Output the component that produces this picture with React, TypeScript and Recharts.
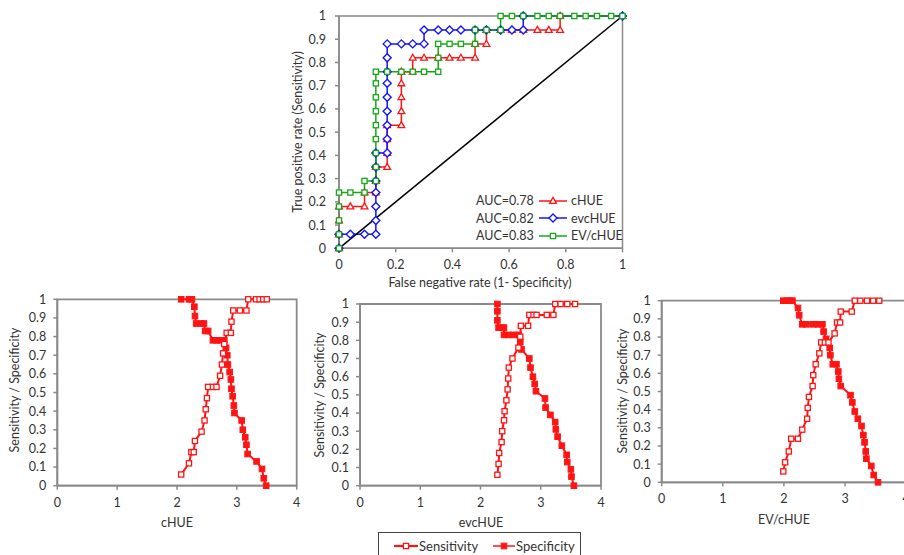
import { Line, LineChart, ReferenceArea, XAxis, YAxis } from 'recharts';

type Pt = [number, number];

// ROC curves: [1 - specificity, sensitivity]
const rocCHue: Pt[] = [
  [0, 0], [0, 0.06], [0, 0.12], [0, 0.18], [0.04, 0.18], [0.09, 0.18], [0.09, 0.24], [0.13, 0.24],
  [0.13, 0.29], [0.13, 0.35], [0.17, 0.35], [0.17, 0.41], [0.17, 0.47], [0.17, 0.53], [0.22, 0.53],
  [0.22, 0.59], [0.22, 0.65], [0.22, 0.71], [0.22, 0.76], [0.26, 0.76], [0.26, 0.82], [0.3, 0.82],
  [0.35, 0.82], [0.39, 0.82], [0.43, 0.82], [0.48, 0.82], [0.48, 0.88], [0.52, 0.88], [0.52, 0.94],
  [0.57, 0.94], [0.61, 0.94], [0.65, 0.94], [0.7, 0.94], [0.74, 0.94], [0.78, 0.94], [0.78, 1], [1, 1],
];
const rocEvcHue: Pt[] = [
  [0, 0], [0, 0.06], [0.04, 0.06], [0.09, 0.06], [0.13, 0.06], [0.13, 0.12], [0.13, 0.18], [0.13, 0.24],
  [0.13, 0.29], [0.13, 0.35], [0.13, 0.41], [0.17, 0.41], [0.17, 0.47], [0.17, 0.53], [0.17, 0.59],
  [0.17, 0.65], [0.17, 0.71], [0.17, 0.76], [0.17, 0.82], [0.17, 0.88], [0.22, 0.88], [0.26, 0.88],
  [0.3, 0.88], [0.3, 0.94], [0.35, 0.94], [0.39, 0.94], [0.43, 0.94], [0.48, 0.94], [0.52, 0.94],
  [0.57, 0.94], [0.61, 0.94], [0.65, 0.94], [0.65, 1], [1, 1],
];
const rocEvCHue: Pt[] = [
  [0, 0], [0, 0.06], [0, 0.12], [0, 0.18], [0, 0.24], [0.04, 0.24], [0.09, 0.24], [0.09, 0.29],
  [0.13, 0.29], [0.13, 0.35], [0.13, 0.41], [0.13, 0.47], [0.13, 0.53], [0.13, 0.59], [0.13, 0.65],
  [0.13, 0.71], [0.13, 0.76], [0.17, 0.76], [0.22, 0.76], [0.26, 0.76], [0.3, 0.76], [0.35, 0.76],
  [0.35, 0.82], [0.35, 0.88], [0.39, 0.88], [0.43, 0.88], [0.48, 0.88], [0.48, 0.94], [0.52, 0.94],
  [0.57, 0.94], [0.57, 1], [0.61, 1], [0.65, 1], [0.7, 1], [0.74, 1], [0.78, 1], [0.83, 1], [0.87, 1],
  [0.91, 1], [0.96, 1], [1, 1],
];
const diagonal: Pt[] = [[0, 0], [1, 1]];
const aucLabels = ['AUC=0.78', 'AUC=0.82', 'AUC=0.83'];
const seriesNames = ['cHUE', 'evcHUE', 'EV/cHUE'];

// threshold plots: [cut-off value, sensitivity or specificity]
const sensCHue: Pt[] = [
  [2.07, 0.06], [2.2, 0.12], [2.24, 0.18], [2.28, 0.18], [2.3, 0.24], [2.41, 0.29], [2.46, 0.35],
  [2.48, 0.41], [2.5, 0.47], [2.52, 0.53], [2.6, 0.53], [2.66, 0.53], [2.72, 0.59], [2.75, 0.65],
  [2.77, 0.71], [2.79, 0.76], [2.83, 0.82], [2.9, 0.82], [2.91, 0.88], [2.94, 0.94], [3.05, 0.94],
  [3.16, 0.94], [3.19, 1], [3.32, 1], [3.38, 1], [3.44, 1], [3.5, 1],
];
const specCHue: Pt[] = [
  [2.07, 1], [2.2, 1], [2.25, 1], [2.29, 0.96], [2.3, 0.91], [2.32, 0.87], [2.4, 0.87], [2.45, 0.87],
  [2.47, 0.83], [2.52, 0.83], [2.6, 0.78], [2.66, 0.78], [2.72, 0.78], [2.79, 0.78], [2.82, 0.74],
  [2.84, 0.7], [2.85, 0.65], [2.88, 0.61], [2.9, 0.57], [2.91, 0.52], [2.93, 0.48], [2.95, 0.43],
  [2.96, 0.39], [3.08, 0.35], [3.1, 0.3], [3.14, 0.26], [3.16, 0.22], [3.18, 0.17], [3.33, 0.13],
  [3.42, 0.09], [3.45, 0.04], [3.49, 0],
];
const sensEvcHue: Pt[] = [
  [2.28, 0.06], [2.3, 0.12], [2.31, 0.18], [2.35, 0.24], [2.36, 0.3], [2.39, 0.36], [2.4, 0.41],
  [2.43, 0.47], [2.45, 0.53], [2.46, 0.59], [2.47, 0.65], [2.53, 0.7], [2.63, 0.76], [2.66, 0.82],
  [2.67, 0.88], [2.79, 0.88], [2.81, 0.94], [2.88, 0.94], [2.93, 0.94], [3.1, 0.94], [3.21, 0.94],
  [3.24, 1], [3.33, 1], [3.44, 1], [3.57, 1],
];
const specEvcHue: Pt[] = [
  [2.28, 1], [2.28, 0.96], [2.28, 0.91], [2.3, 0.87], [2.35, 0.87], [2.39, 0.87], [2.39, 0.83],
  [2.46, 0.83], [2.55, 0.83], [2.63, 0.83], [2.66, 0.79], [2.68, 0.75], [2.81, 0.7], [2.83, 0.65],
  [2.87, 0.6], [2.9, 0.56], [2.92, 0.52], [3.07, 0.48], [3.08, 0.43], [3.16, 0.39], [3.24, 0.35],
  [3.25, 0.31], [3.28, 0.27], [3.35, 0.22], [3.43, 0.17], [3.44, 0.13], [3.5, 0.09], [3.51, 0.05],
  [3.55, 0],
];
const sensEvCHue: Pt[] = [
  [1.99, 0.06], [2.02, 0.11], [2.08, 0.17], [2.12, 0.24], [2.23, 0.24], [2.3, 0.29], [2.38, 0.35],
  [2.39, 0.41], [2.41, 0.47], [2.47, 0.53], [2.48, 0.59], [2.52, 0.65], [2.58, 0.71], [2.61, 0.77],
  [2.67, 0.77], [2.73, 0.77], [2.83, 0.82], [2.87, 0.88], [2.92, 0.88], [2.93, 0.94], [3.11, 0.94],
  [3.16, 1], [3.25, 1], [3.36, 1], [3.46, 1], [3.56, 1],
];
const specEvCHue: Pt[] = [
  [1.99, 1], [2.05, 1], [2.1, 1], [2.14, 1], [2.23, 0.96], [2.25, 0.92], [2.3, 0.87], [2.37, 0.87],
  [2.48, 0.87], [2.56, 0.87], [2.63, 0.87], [2.65, 0.83], [2.69, 0.79], [2.75, 0.74], [2.76, 0.7],
  [2.8, 0.65], [2.86, 0.65], [2.89, 0.61], [2.9, 0.57], [2.93, 0.53], [3.09, 0.48], [3.12, 0.44],
  [3.16, 0.39], [3.21, 0.35], [3.27, 0.31], [3.3, 0.26], [3.32, 0.22], [3.34, 0.17], [3.35, 0.13],
  [3.43, 0.09], [3.47, 0.04], [3.54, 0],
];

const rocTicks = [0, 0.2, 0.4, 0.6, 0.8, 1];
const rateTicks = [0, 0.1, 0.2, 0.3, 0.4, 0.5, 0.6, 0.7, 0.8, 0.9, 1];
const cutTicks = [0, 1, 2, 3, 4];

const RED = '#ff1414';
const BLUE = '#1414ff';
const GREEN = '#17a817';
const AXIS = '#8a8a8a';
const TEXT = '#333';
const FONT = 'Lato, "Open Sans", sans-serif';

const xy = (pts: Pt[]) => pts.map(([x, y]) => ({ x, y }));

type Shape = 'tri' | 'dia' | 'sq' | 'sqFill';

function shapeEl(shape: Shape, cx: number, cy: number, color: string, key?: string) {
  if (shape === 'tri')
    return <path key={key} d={`M${cx},${cy - 3.6}L${cx + 3.4},${cy + 2.4}L${cx - 3.4},${cy + 2.4}Z`} fill="#fff" stroke={color} strokeWidth={1.3} />;
  if (shape === 'dia')
    return <path key={key} d={`M${cx},${cy - 4}L${cx + 4},${cy}L${cx},${cy + 4}L${cx - 4},${cy}Z`} fill="#fff" stroke={color} strokeWidth={1.4} />;
  if (shape === 'sq')
    return <rect key={key} x={cx - 2.6} y={cy - 2.6} width={5.2} height={5.2} fill="#fff" stroke={color} strokeWidth={1.3} />;
  return <rect key={key} x={cx - 2.8} y={cy - 2.8} width={5.6} height={5.6} fill={color} stroke={color} strokeWidth={1} />;
}

const dotOf = (shape: Shape, color: string) => (p: any) => {
  const key = `${shape}-${p.index}`;
  if (p.cx == null || p.cy == null) return <g key={key} />;
  return shapeEl(shape, p.cx, p.cy, color, key);
};

const tickStyle = { fill: TEXT, fontSize: 12.5, fontFamily: FONT };

function RocChart() {
  return (
    <div style={{ position: 'absolute', left: 270, top: 0 }}>
      <LineChart width={380} height={300} margin={{ top: 16, right: 27.5, left: 29, bottom: 21.7 }}>
        <XAxis type="number" dataKey="x" domain={[0, 1]} ticks={rocTicks} interval={0} height={30} tickSize={4} tickMargin={8}
          axisLine={{ stroke: AXIS, strokeWidth: 1.5 }} tickLine={{ stroke: AXIS, strokeWidth: 1.5 }} tick={tickStyle} />
        <YAxis type="number" domain={[0, 1]} ticks={rateTicks} interval={0} width={40} tickSize={4} tickMargin={9}
          axisLine={{ stroke: AXIS, strokeWidth: 1.5 }} tickLine={{ stroke: AXIS, strokeWidth: 1.5 }} tick={tickStyle} />
        <XAxis xAxisId="in" type="number" domain={[0, 1]} ticks={rocTicks} interval={0} mirror axisLine={false} tickSize={4}
          tickLine={{ stroke: AXIS, strokeWidth: 1.5 }} tickFormatter={() => ''} />
        <YAxis yAxisId="in" type="number" domain={[0, 1]} ticks={rateTicks} interval={0} mirror axisLine={false} tickSize={4}
          tickLine={{ stroke: AXIS, strokeWidth: 1.5 }} tickFormatter={() => ''} />
        <ReferenceArea x1={0} x2={1} y1={0} y2={1} fill="none" stroke={AXIS} strokeWidth={1.5} />
        <Line data={xy(rocCHue)} dataKey="y" stroke={RED} strokeWidth={1.5} dot={dotOf('tri', RED)} isAnimationActive={false} />
        <Line data={xy(rocEvcHue)} dataKey="y" stroke={BLUE} strokeWidth={1.5} dot={dotOf('dia', BLUE)} isAnimationActive={false} />
        <Line data={xy(rocEvCHue)} dataKey="y" stroke={GREEN} strokeWidth={1.5} dot={dotOf('sq', GREEN)} isAnimationActive={false} />
        <Line data={xy(diagonal)} dataKey="y" stroke="#000" strokeWidth={1.5} dot={false} isAnimationActive={false} />
      </LineChart>
    </div>
  );
}

function CutChart({ left, top, width, margin, sens, spec }: {
  left: number; top: number; width: number;
  margin: { top: number; right: number; left: number; bottom: number };
  sens: Pt[]; spec: Pt[];
}) {
  return (
    <div style={{ position: 'absolute', left, top }}>
      <LineChart width={width} height={230} margin={margin}>
        <XAxis type="number" dataKey="x" domain={[0, 4]} ticks={cutTicks} interval={0} height={25} tickSize={4} tickMargin={8}
          axisLine={{ stroke: AXIS, strokeWidth: 1.8 }} tickLine={{ stroke: AXIS, strokeWidth: 1.5 }} tick={tickStyle} />
        <YAxis type="number" domain={[0, 1]} ticks={rateTicks} interval={0} width={40} tickSize={4} tickMargin={7}
          axisLine={{ stroke: AXIS, strokeWidth: 1.8 }} tickLine={{ stroke: AXIS, strokeWidth: 1.5 }} tick={tickStyle} />
        <XAxis xAxisId="in" type="number" domain={[0, 4]} ticks={cutTicks} interval={0} mirror axisLine={false} tickSize={4}
          tickLine={{ stroke: AXIS, strokeWidth: 1.5 }} tickFormatter={() => ''} />
        <YAxis yAxisId="in" type="number" domain={[0, 1]} ticks={rateTicks} interval={0} mirror axisLine={false} tickSize={4}
          tickLine={{ stroke: AXIS, strokeWidth: 1.5 }} tickFormatter={() => ''} />
        <ReferenceArea x1={0} x2={4} y1={0} y2={1} fill="none" stroke={AXIS} strokeWidth={1.8} />
        <Line data={xy(spec)} dataKey="y" stroke={RED} strokeWidth={2} dot={dotOf('sqFill', RED)} isAnimationActive={false} />
        <Line data={xy(sens)} dataKey="y" stroke={RED} strokeWidth={2} dot={dotOf('sq', RED)} isAnimationActive={false} />
      </LineChart>
    </div>
  );
}

const labelStyle = { position: 'absolute' as const, fontSize: 12.5, color: TEXT, fontFamily: FONT, whiteSpace: 'nowrap' as const, lineHeight: '16px', textAlign: 'center' as const };

function XTitle({ cx, cy, text }: { cx: number; cy: number; text: string }) {
  return <div style={{ ...labelStyle, left: cx - 150, top: cy - 8, width: 300 }}>{text}</div>;
}

function YTitle({ cx, cy, text }: { cx: number; cy: number; text: string }) {
  return <div style={{ ...labelStyle, left: cx - 120, top: cy - 8, width: 240, transform: 'rotate(-90deg)' }}>{text}</div>;
}

function LegendSample({ shape, color, w = 30, sw = 1.5 }: { shape: Shape; color: string; w?: number; sw?: number }) {
  return (
    <svg width={w} height={10} style={{ display: 'block' }}>
      <line x1={1} y1={5} x2={w - 1} y2={5} stroke={color} strokeWidth={sw} />
      {shapeEl(shape, w / 2, 5, color)}
    </svg>
  );
}

export default function App() {
  const rocColors = [RED, BLUE, GREEN];
  const rocShapes: Shape[] = ['tri', 'dia', 'sq'];
  return (
    <div style={{ position: 'fixed', left: 0, top: 0, width: 904, height: 555, overflow: 'hidden', background: '#fff', fontFamily: FONT }}>
      <RocChart />
      <XTitle cx={480} cy={283} text="False negative rate (1- Specificity)" />
      <YTitle cx={298} cy={132} text="True positive rate (Sensitivity)" />
      <div style={{ position: 'absolute', left: 476, top: 192 }}>
        {aucLabels.map((a, i) => (
          <div key={a} style={{ display: 'flex', alignItems: 'center', height: 17.5, fontSize: 12.5, color: TEXT }}>
            <span style={{ width: 62 }}>{a}</span>
            <LegendSample shape={rocShapes[i]} color={rocColors[i]} w={30} />
            <span style={{ marginLeft: 3 }}>{seriesNames[i]}</span>
          </div>
        ))}
      </div>

      <CutChart left={0} top={290} width={310} margin={{ top: 9.3, right: 13.3, left: 17.3, bottom: 9.3 }} sens={sensCHue} spec={specCHue} />
      <CutChart left={300} top={290} width={320} margin={{ top: 14, right: 19, left: 20, bottom: 9.3 }} sens={sensEvcHue} spec={specEvcHue} />
      <CutChart left={600} top={290} width={320} margin={{ top: 10.7, right: 13.9, left: 21.7, bottom: 12.7 }} sens={sensEvCHue} spec={specEvCHue} />
      <XTitle cx={177} cy={523} text={seriesNames[0]} />
      <XTitle cx={481} cy={523} text={seriesNames[1]} />
      <XTitle cx={784} cy={520} text={seriesNames[2]} />
      <YTitle cx={15} cy={390} text="Sensitivity / Specificity" />
      <YTitle cx={320} cy={395} text="Sensitivity / Specificity" />
      <YTitle cx={623} cy={391} text="Sensitivity / Specificity" />

      <div style={{ position: 'absolute', left: 378, top: 532, width: 203, height: 30, border: '1px solid #444', background: '#fff',
        display: 'flex', alignItems: 'flex-start', paddingTop: 5, boxSizing: 'border-box', fontSize: 13, color: TEXT }}>
        <div style={{ display: 'flex', alignItems: 'center', marginLeft: 14 }}>
          <LegendSample shape="sq" color={RED} w={26} sw={2.2} />
          <span>Sensitivity</span>
        </div>
        <div style={{ display: 'flex', alignItems: 'center', marginLeft: 14 }}>
          <LegendSample shape="sqFill" color={RED} w={24} sw={1.5} />
          <span>Specificity</span>
        </div>
      </div>
    </div>
  );
}
